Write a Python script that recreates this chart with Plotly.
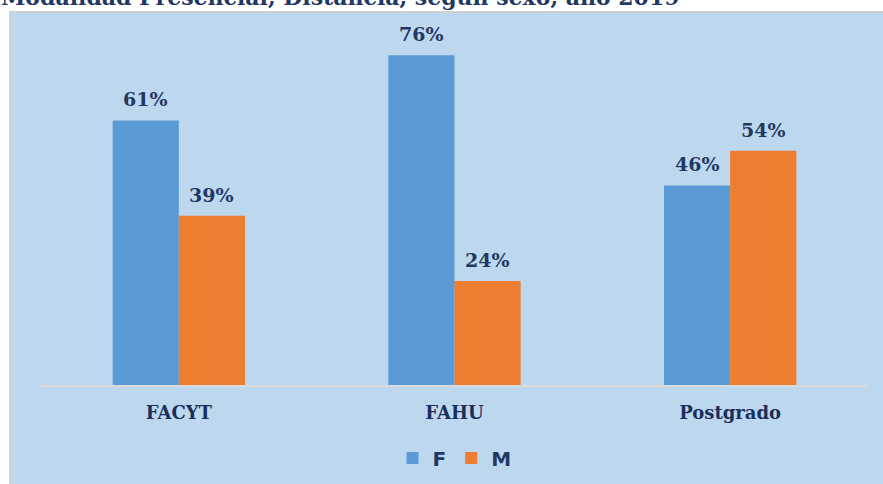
import plotly.graph_objects as go

# ---------- data ----------
categories = ["FACYT", "FAHU", "Postgrado"]
pct_f = [61, 76, 46]
pct_m = [39, 24, 54]
title_text = "Modalidad Presencial, Distancia, según sexo, año 2019"

BLUE = "#5B9BD5"
ORANGE = "#ED7D31"
BG = "#BDD7EE"
NAVY = "#1F3864"

W, H = 883, 484
L, R, T, B = 41, 15, 38, 99
plot_w = W - L - R
plot_h = H - T - B


def px_x(x):
    return (x - L) / plot_w


def px_y(y):
    return (H - B - y) / plot_h


fig = go.Figure()
for name, vals, col, shift in [("F", pct_f, BLUE, -33), ("M", pct_m, ORANGE, 33)]:
    fig.add_trace(go.Bar(name=name, x=categories, y=vals, marker_color=col,
                         marker_line_width=0))
    # value labels a little above each bar
    for cat, v in zip(categories, vals):
        fig.add_annotation(x=cat, y=v, text=f"<b>{v}%</b>", showarrow=False,
                           xshift=shift, yshift=8, yanchor="bottom",
                           font=dict(family="DejaVu Serif", size=19, color=NAVY))

# light blue chart box with grey border
fig.add_shape(type="rect", xref="paper", yref="paper", layer="below",
              x0=px_x(10), x1=px_x(W + 5), y0=px_y(H + 5), y1=px_y(12),
              fillcolor=BG, line=dict(color="#D0D0D0", width=2))

# title, cut off by the top edge as in the source image
fig.add_annotation(text="<b>" + title_text + "</b>", xref="paper", yref="paper",
                   x=px_x(-1), y=px_y(-3), xanchor="left", yanchor="middle",
                   showarrow=False,
                   font=dict(family="DejaVu Serif", size=22, color=NAVY))

fig.update_layout(
    width=W, height=H,
    margin=dict(l=L, r=R, t=T, b=B, autoexpand=False),
    paper_bgcolor="white", plot_bgcolor="rgba(0,0,0,0)",
    barmode="group", bargap=0.52, bargroupgap=0,
    font=dict(family="DejaVu Serif", color=NAVY),
    showlegend=True,
    legend=dict(orientation="h", x=0.5, xanchor="center",
                yref="container", y=1 - 458 / H, yanchor="middle",
                font=dict(family="DejaVu Sans", size=20, color=NAVY, weight="bold"),
                itemwidth=30, bgcolor="rgba(0,0,0,0)"),
)
fig.update_xaxes(showline=True, linecolor="#D9D9D9", linewidth=2,
                 ticks="", showgrid=False, ticklabelstandoff=10,
                 tickfont=dict(family="DejaVu Serif", size=18, color="#1A2F5A",
                               weight="bold"))
fig.update_yaxes(range=[0, 80], visible=False, showgrid=False)

fig.write_html("out.html", config={"displayModeBar": False},
               post_script="document.body.style.margin='0px';")
